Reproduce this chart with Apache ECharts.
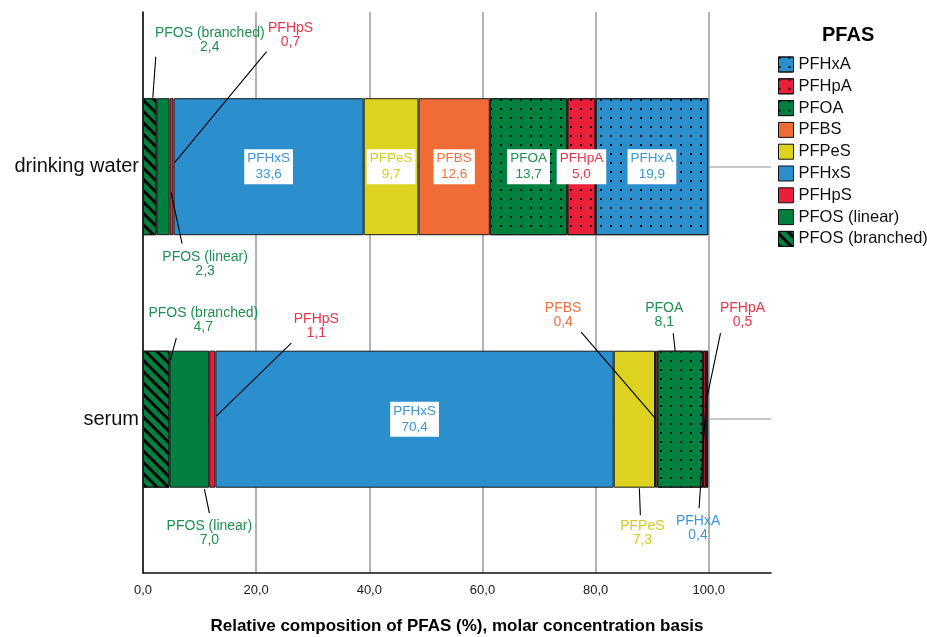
<!DOCTYPE html>
<html>
<head>
<meta charset="utf-8">
<script src="https://cdn.jsdelivr.net/npm/echarts@6/dist/echarts.min.js"></script>
<style>html,body{margin:0;padding:0;background:#fff;}#c{width:927px;height:637px;}</style>
</head>
<body>
<div id="c"></div>
<script>
// ---- data ----
const categories = ['drinking water', 'serum'];
const pfosBranched = [2.4, 4.7];
const pfosLinear   = [2.3, 7.0];
const pfhps        = [0.7, 1.1];
const pfhxs        = [33.6, 70.4];
const pfpes        = [9.7, 7.3];
const pfbs         = [12.6, 0.4];
const pfoa         = [13.7, 8.1];
const pfhpa        = [5.0, 0.5];
const pfhxa        = [19.9, 0.4];
const xTickValues  = [0, 20, 40, 60, 80, 100];
const xAxisMax     = 111;
const legendOrder  = ['PFHxA', 'PFHpA', 'PFOA', 'PFBS', 'PFPeS', 'PFHxS', 'PFHpS', 'PFOS (linear)', 'PFOS (branched)'];

// ---- styles ----
const FONT = '"Liberation Sans", Arial, Helvetica, sans-serif';
const GREEN = '#00803f', GREEN_T = '#1f8f50';
const RED = '#e8203a', RED_T = '#e8344a';
const BLUE = '#2b8fcd', BLUE_T = '#3a96d6';
const ORANGE = '#f06b35', ORANGE_T = '#f07040';
const YELLOW = '#ddd21f', YELLOW_T = '#d6ca20';

const hatch = { symbol: 'rect', symbolSize: 1, color: '#000', dashArrayX: [1, 0], dashArrayY: [3, 4.5], rotation: Math.PI / 4 };
const dots = { symbol: 'rect', symbolSize: 1, color: '#111', dashArrayX: [1.3, 7.2], dashArrayY: [1.3, 6.5], rotation: 0 };

const seriesInfo = [
  { name: 'PFOS (branched)', data: pfosBranched, color: GREEN, text: GREEN_T, decal: hatch },
  { name: 'PFOS (linear)', data: pfosLinear, color: GREEN, text: GREEN_T },
  { name: 'PFHpS', data: pfhps, color: RED, text: RED_T },
  { name: 'PFHxS', data: pfhxs, color: BLUE, text: BLUE_T },
  { name: 'PFPeS', data: pfpes, color: YELLOW, text: YELLOW_T },
  { name: 'PFBS', data: pfbs, color: ORANGE, text: ORANGE_T },
  { name: 'PFOA', data: pfoa, color: GREEN, text: GREEN_T, decal: dots },
  { name: 'PFHpA', data: pfhpa, color: RED, text: RED_T, decal: dots },
  { name: 'PFHxA', data: pfhxa, color: BLUE, text: BLUE_T, decal: dots }
];

// which segments carry an inside label (series name -> category indices)
const insideLabels = {
  'PFHxS': [0, 1], 'PFPeS': [0], 'PFBS': [0], 'PFOA': [0], 'PFHpA': [0], 'PFHxA': [0]
};

// callout layout (pixel offsets from the segment centre on the bar's centre line)
const callouts = [
  { cat: 0, name: 'PFOS (branched)', text: [60, -127], from: [6, -110], to: [3, -69] },
  { cat: 0, name: 'PFHpS', text: [119, -132], from: [95, -115], to: [3, -4] },
  { cat: 0, name: 'PFOS (linear)', text: [42, 97], from: [19, 77], to: [8, 26] },
  { cat: 1, name: 'PFOS (branched)', text: [47, -99], from: [20, -81], to: [14, -59] },
  { cat: 1, name: 'PFHpS', text: [104, -93], from: [79, -76], to: [4, -3] },
  { cat: 1, name: 'PFOS (linear)', text: [20, 114], from: [15, 70], to: [20, 94] },
  { cat: 1, name: 'PFBS', text: [-93, -104], from: [-75, -87], to: [-1, -1] },
  { cat: 1, name: 'PFOA', text: [-16, -104], from: [-7, -86], to: [-5, -68] },
  { cat: 1, name: 'PFHpA', text: [38, -104], from: [16, -86], to: [0.5, -12] },
  { cat: 1, name: 'PFPeS', text: [8, 114], from: [5, 69], to: [6, 96] },
  { cat: 1, name: 'PFHxA', text: [-9, 109], from: [-1, -16], to: [-8, 89] }
];

const fmt = v => Number(v).toFixed(1).replace('.', ',');

const barSeries = seriesInfo.map(s => ({
  name: s.name,
  type: 'bar',
  stack: 'total',
  xAxisIndex: 1,
  yAxisIndex: 1,
  barWidth: 137,
  itemStyle: { color: s.color, borderColor: '#1a1a1a', borderWidth: 1, decal: s.decal || null },
  label: {
    show: false, position: 'inside', color: s.text, fontFamily: FONT, fontSize: 13.5, lineHeight: 16,
    backgroundColor: '#fff', padding: [2, 3, 1, 3],
    formatter: p => p.seriesName + '\n' + fmt(p.value)
  },
  emphasis: { disabled: true },
  data: s.data.map((v, i) => ({
    value: v,
    label: { show: (insideLabels[s.name] || []).indexOf(i) >= 0 }
  }))
}));

// callout data: [start, end, category] computed from the stacked arrays
const calloutData = callouts.map(c => {
  const idx = seriesInfo.findIndex(s => s.name === c.name);
  let start = 0;
  for (let k = 0; k < idx; k++) start += seriesInfo[k].data[c.cat];
  return [start, start + seriesInfo[idx].data[c.cat], c.cat];
});

const calloutSeries = {
  type: 'custom',
  xAxisIndex: 1,
  yAxisIndex: 1,
  z: 10,
  silent: true,
  encode: { x: [0, 1], y: 2 },
  data: calloutData,
  renderItem: (params, api) => {
    const c = callouts[params.dataIndex];
    const info = seriesInfo.find(s => s.name === c.name);
    const mid = (api.value(0) + api.value(1)) / 2;
    const p = api.coord([mid, api.value(2)]);
    const val = info.data[c.cat];
    return {
      type: 'group',
      children: [
        { type: 'line', shape: { x1: p[0] + c.from[0], y1: p[1] + c.from[1], x2: p[0] + c.to[0], y2: p[1] + c.to[1] },
          style: { stroke: '#000', lineWidth: 1.1 } },
        { type: 'text', x: p[0] + c.text[0], y: p[1] + c.text[1],
          style: { text: c.name + '\n' + fmt(val), fill: info.text, fontFamily: FONT, fontSize: 14, lineHeight: 14,
                   align: 'center', verticalAlign: 'middle' } }
      ]
    };
  }
};

const chart = echarts.init(document.getElementById('c'), null, { renderer: 'canvas' });
chart.setOption({
  animation: false,
  backgroundColor: '#fff',
  textStyle: { fontFamily: FONT },
  grid: [
    { left: 143, right: 156, top: 12, bottom: 64, containLabel: false, outerBoundsMode: 'none' },
    { left: 143, right: 156, top: 166.7, bottom: 217.8, containLabel: false, outerBoundsMode: 'none' }
  ],
  xAxis: [
    {
      gridIndex: 0, type: 'value', min: 0, max: xAxisMax, interval: xTickValues[1] - xTickValues[0],
      axisLine: { show: true, onZero: false, lineStyle: { color: '#111', width: 1.6 } },
      axisTick: { show: false },
      axisLabel: { show: true, margin: 11, fontSize: 13, color: '#1a1a1a', fontFamily: FONT, showMaxLabel: false,
                   formatter: v => (xTickValues.indexOf(v) >= 0 ? fmt(v) : '') },
      splitLine: { show: true, lineStyle: { width: 2, color: ['#b4b4b4', '#b4b4b4', '#b4b4b4', '#b4b4b4', '#b4b4b4', '#b4b4b4', 'rgba(0,0,0,0)'] } },
      name: 'Relative composition of PFAS (%), molar concentration basis',
      nameLocation: 'middle', nameGap: 45,
      nameTextStyle: { fontSize: 17, fontWeight: 'bold', color: '#000', fontFamily: FONT }
    },
    { gridIndex: 1, type: 'value', min: 0, max: xAxisMax, show: false }
  ],
  yAxis: [
    {
      gridIndex: 0, type: 'value', min: 0, max: 1,
      axisLine: { show: true, onZero: false, lineStyle: { color: '#111', width: 1.6 } },
      axisTick: { show: false }, axisLabel: { show: false }, splitLine: { show: false }
    },
    {
      gridIndex: 1, type: 'category', data: categories, inverse: true, boundaryGap: false,
      axisLine: { show: false }, axisTick: { show: false },
      axisLabel: { show: true, margin: 4, fontSize: 20, color: '#111', fontFamily: FONT },
      splitLine: { show: true, lineStyle: { color: '#b4b4b4', width: 1.5 } }
    }
  ],
  legend: {
    data: legendOrder,
    orient: 'vertical',
    left: 773, top: 51,
    itemWidth: 15, itemHeight: 15, itemGap: 4.8,
    icon: 'rect',
    itemStyle: { borderColor: '#111', borderWidth: 1 },
    textStyle: { fontSize: 16.5, lineHeight: 15, color: '#111', fontFamily: FONT },
    selectedMode: false
  },
  graphic: [
    { type: 'text', left: 822, top: 25, style: { text: 'PFAS', font: 'bold 20px ' + FONT, fill: '#000' } }
  ],
  series: barSeries.concat([calloutSeries])
});
</script>
</body>
</html>
